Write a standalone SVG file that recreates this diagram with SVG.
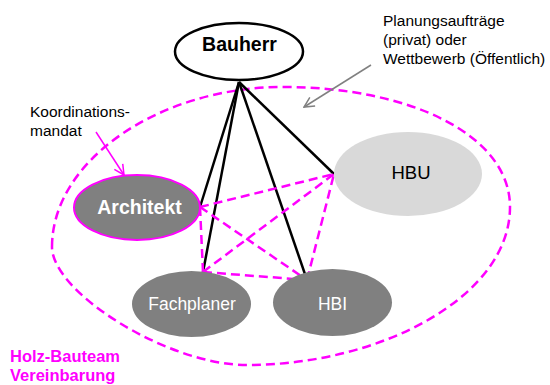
<svg xmlns="http://www.w3.org/2000/svg" width="550" height="385" viewBox="0 0 550 385">
<style>
text{font-family:"Liberation Sans",Arial,sans-serif}
.dash{fill:none;stroke:#FF00FF;stroke-width:2.5;stroke-dasharray:9 5}
.blk{stroke:#000;stroke-width:2.5;fill:none}
.lbl{font-size:15.5px;fill:#000}
.node{fill:#fff;text-anchor:middle}
</style>
<defs>
<marker id="ag" viewBox="0 0 12 12" refX="11" refY="6" markerWidth="12" markerHeight="12" markerUnits="userSpaceOnUse" orient="auto">
<path d="M1,1 L11,6 L1,11" fill="none" stroke="#808080" stroke-width="1.5"/>
</marker>
<marker id="am" viewBox="0 0 12 12" refX="11" refY="6" markerWidth="12" markerHeight="12" markerUnits="userSpaceOnUse" orient="auto">
<path d="M1,1 L11,6 L1,11" fill="none" stroke="#FF00FF" stroke-width="1.5"/>
</marker>
</defs>
<rect width="550" height="385" fill="#fff"/>
<g id="team">
<path class="dash" d="M52,247 C52,160 160,87 283,87 C410,87 510,135 510,207 C510,297 380,365 247,365 C167,365 52,292 52,247 Z"/>
<text x="10" y="362" font-size="16.5" font-weight="bold" fill="#FF00FF">Holz-Bauteam</text>
<text x="10" y="381" font-size="16.5" font-weight="bold" fill="#FF00FF">Vereinbarung</text>
</g>
<g id="connectors">
<line class="blk" x1="239" y1="82" x2="200" y2="207"/>
<line class="blk" x1="239" y1="82" x2="203" y2="272"/>
<line class="blk" x1="239" y1="82" x2="307" y2="280"/>
<line class="blk" x1="239" y1="82" x2="334" y2="174"/>
<line class="dash" x1="200" y1="207" x2="334" y2="174"/>
<line class="dash" x1="200" y1="207" x2="203" y2="272"/>
<line class="dash" x1="200" y1="207" x2="307" y2="280"/>
<line class="dash" x1="203" y1="272" x2="334" y2="174"/>
<line class="dash" x1="203" y1="272" x2="307" y2="280"/>
<line class="dash" x1="307" y1="280" x2="334" y2="174"/>
<line x1="371" y1="65" x2="304" y2="107" stroke="#808080" stroke-width="1.5" marker-end="url(#ag)"/>
<line x1="96" y1="132" x2="124" y2="175" stroke="#FF00FF" stroke-width="1.5" marker-end="url(#am)"/>
</g>
<g id="bauherr">
<ellipse cx="239" cy="51.5" rx="64" ry="28.5" fill="#fff" stroke="#000" stroke-width="2.5"/>
<text x="239.5" y="51" font-size="19.5" font-weight="bold" text-anchor="middle" fill="#000">Bauherr</text>
</g>
<g id="architekt">
<ellipse cx="137" cy="207.5" rx="63" ry="32.5" fill="#808080" stroke="#FF00FF" stroke-width="2"/>
<text class="node" x="139.5" y="213.5" font-size="19.5" font-weight="bold">Architekt</text>
</g>
<g id="hbu">
<ellipse cx="408" cy="174" rx="74" ry="42" fill="#d9d9d9"/>
<text class="node" x="411" y="178.5" font-size="18.5" style="fill:#000">HBU</text>
</g>
<g id="fachplaner">
<ellipse cx="191.5" cy="304" rx="59.5" ry="33" fill="#808080"/>
<text class="node" x="192" y="309.5" font-size="17.5">Fachplaner</text>
</g>
<g id="hbi">
<ellipse cx="332.5" cy="302.5" rx="59.5" ry="33.5" fill="#808080"/>
<text class="node" x="332.5" y="309.5" font-size="17.5">HBI</text>
</g>
<g id="labels">
<text class="lbl" x="383" y="26">Planungsaufträge</text>
<text class="lbl" x="383" y="45">(privat) oder</text>
<text class="lbl" x="383" y="63.5">Wettbewerb (Öffentlich)</text>
<text class="lbl" x="30" y="117">Koordinations-</text>
<text class="lbl" x="30" y="135.5">mandat</text>
</g>
</svg>
